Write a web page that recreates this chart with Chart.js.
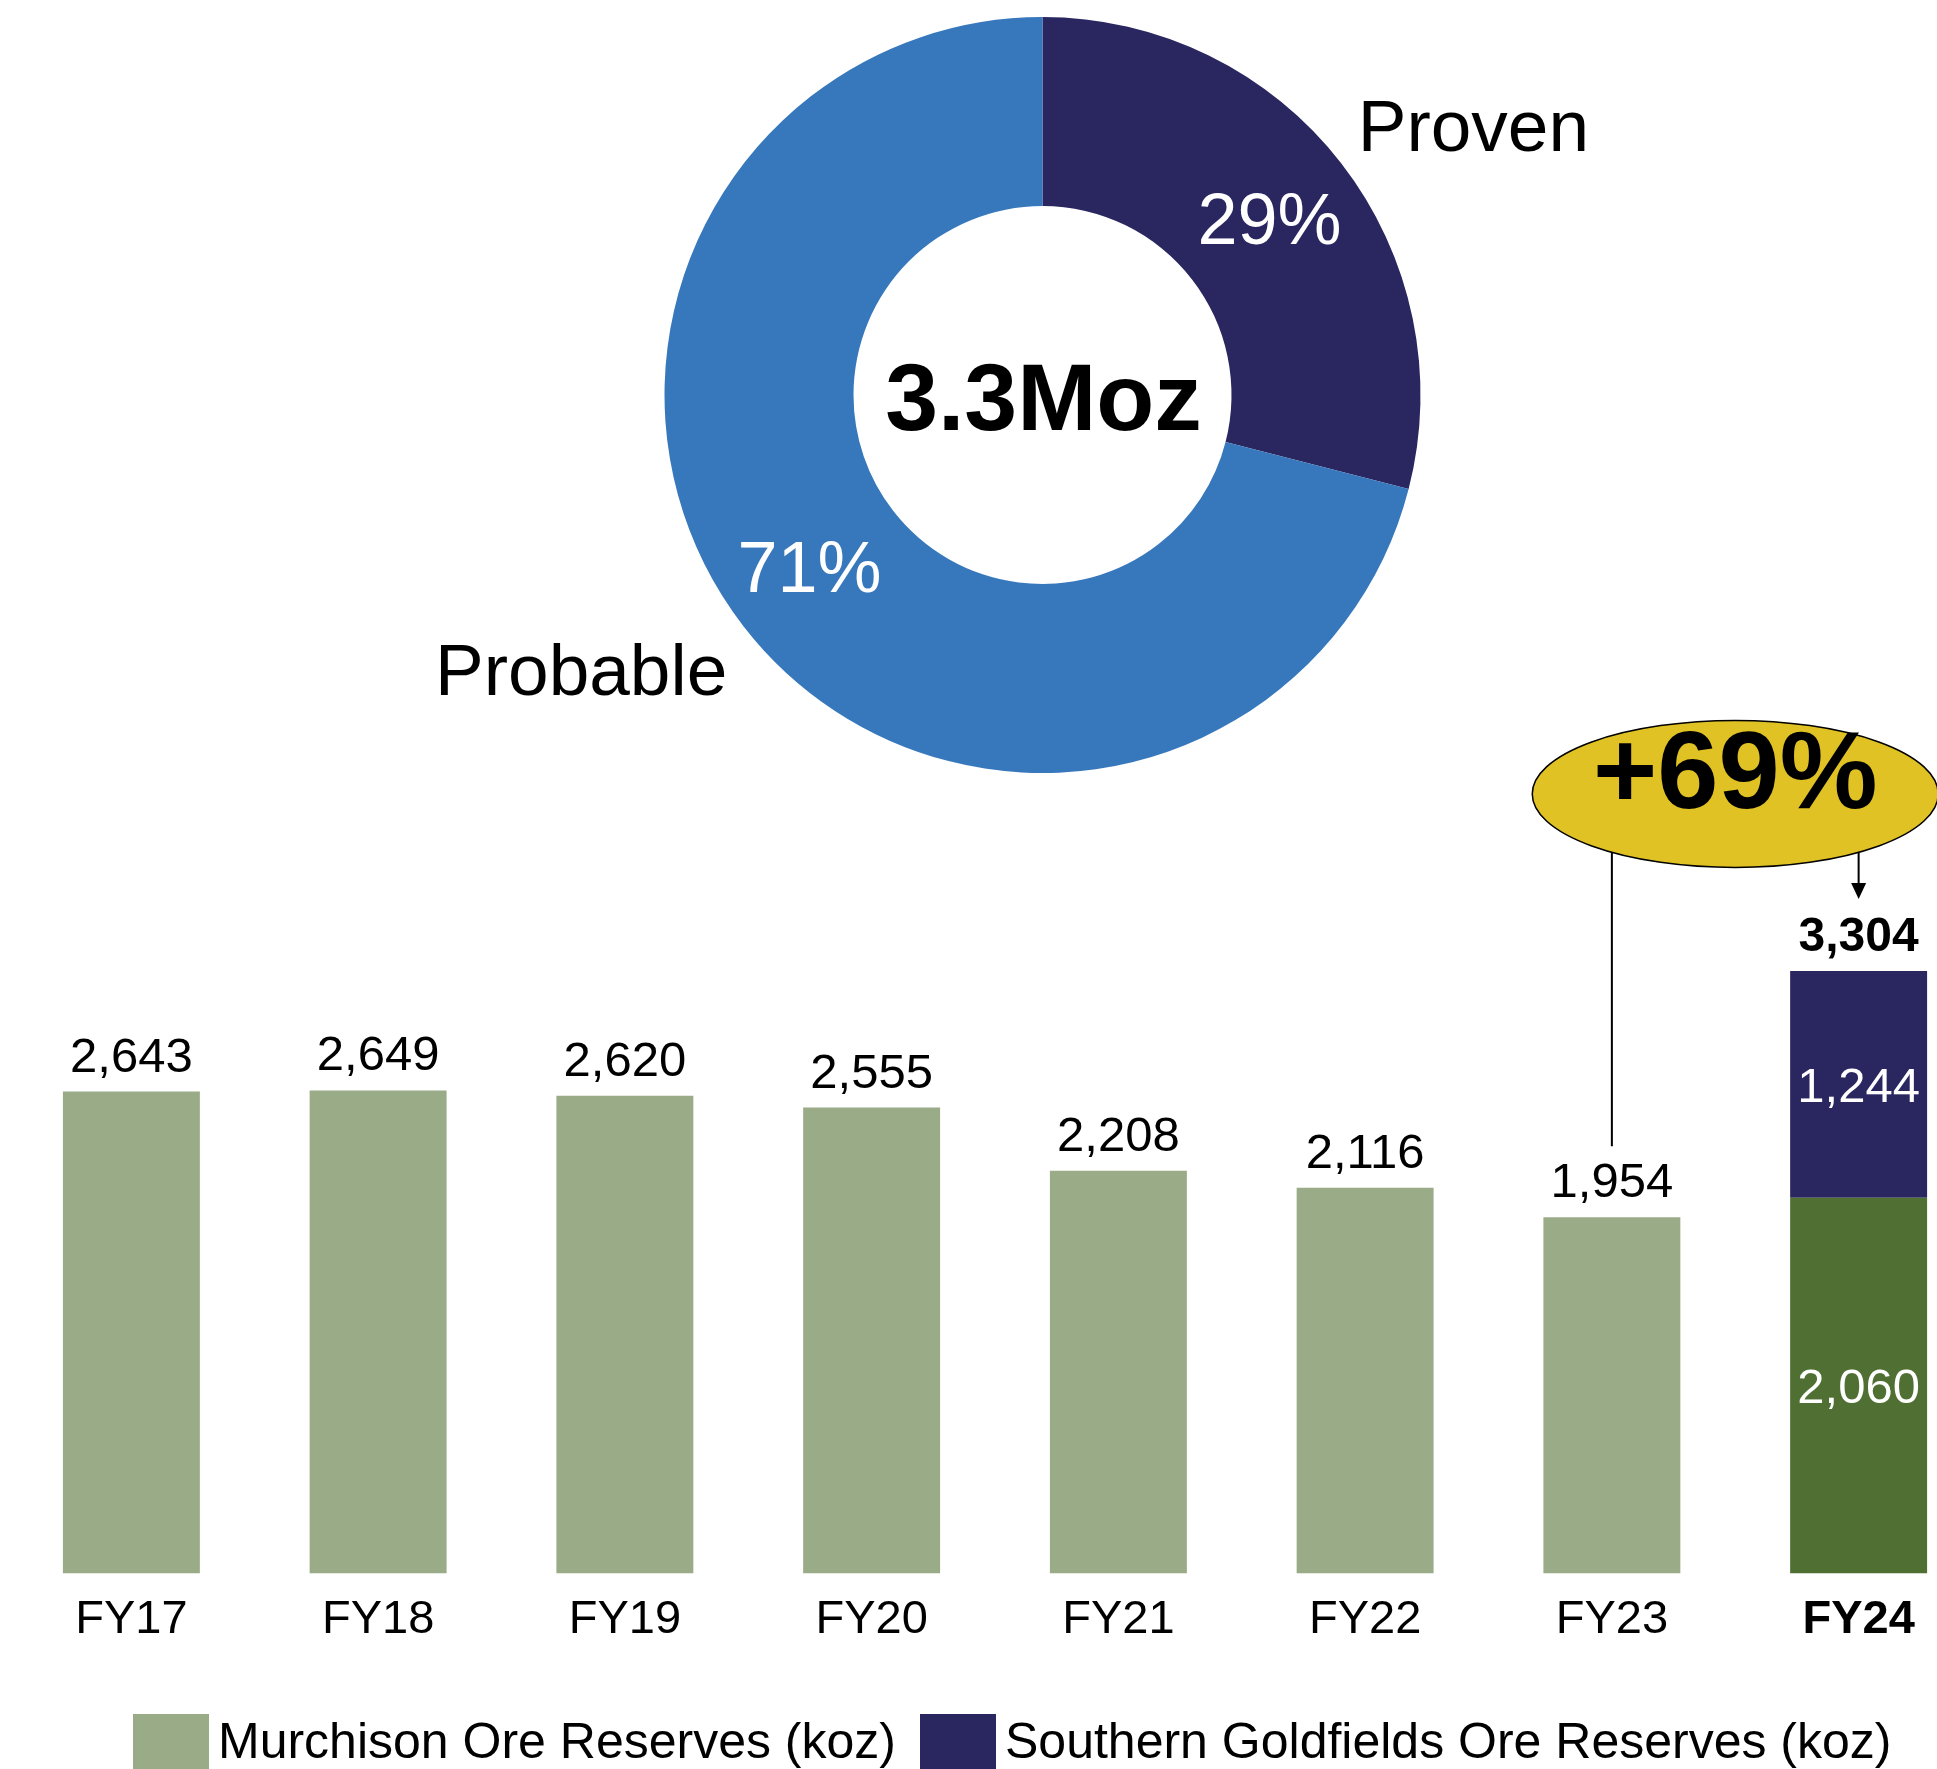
<!DOCTYPE html>
<html>
<head>
<meta charset="utf-8">
<script src="https://cdn.jsdelivr.net/npm/chart.js@4.4.1/dist/chart.umd.min.js"></script>
<style>
  html, body { margin: 0; padding: 0; background: #fff; overflow: hidden; }
  body { width: 1937px; height: 1769px; position: relative; font-family: "Liberation Sans", Arial, sans-serif; }
  #donutWrap { position: absolute; left: 0; top: 0; width: 1937px; height: 790px; }
  #barWrap { position: absolute; left: 0; top: 712px; width: 2000px; height: 946px; }
  .legend-item { position: absolute; top: 1714px; display: flex; align-items: flex-start; }
  .legend-box { width: 76px; height: 76px; }
  .legend-text { font-size: 50px; line-height: 50px; margin-left: 9px; margin-top: 2px; color: #000; white-space: nowrap; }
</style>
</head>
<body>
<div id="donutWrap"><canvas id="donutChart"></canvas></div>
<div id="barWrap"><canvas id="barChart"></canvas></div>
<div id="legend"></div>
<script>
// -----------------------------
// DATA
// -----------------------------
const mixLabels = ['Proven', 'Probable'];
const mixValues = [29, 71];
const totalLabel = '3.3Moz';

const years = ['FY17', 'FY18', 'FY19', 'FY20', 'FY21', 'FY22', 'FY23', 'FY24'];
const murchison = [2643, 2649, 2620, 2555, 2208, 2116, 1954, 2060];
const southern = [null, null, null, null, null, null, null, 1244];
const growthLabel = '+69%';

const FONT = '"Liberation Sans", Arial, sans-serif';
const fmt = n => n.toLocaleString('en-US');

// colours
const navy = '#2a2660';
const blue = '#3778bd';
const lightGreen = '#9aab87';
const darkGreen = '#4f6f33';
const gold = '#e0c224';

// -----------------------------
// DONUT
// -----------------------------
const pctNudge = [3, -9];

const donutLabels = {
    id: 'donutLabels',
    afterDraw(chart) {
        const ctx = chart.ctx;
        const meta = chart.getDatasetMeta(0);
        const first = meta.data[0];
        const cx = first.x, cy = first.y, r = first.outerRadius;
        ctx.save();
        ctx.textAlign = 'center';
        ctx.textBaseline = 'alphabetic';

        // percentages on the ring
        ctx.fillStyle = '#fff';
        ctx.font = '72px ' + FONT;
        meta.data.forEach((arc, i) => {
            const p = arc.tooltipPosition();
            ctx.fillText(mixValues[i] + '%', p.x + pctNudge[i], p.y + 0.358 * 72 - 3);
        });

        // total in the hole
        ctx.fillStyle = '#000';
        ctx.font = 'bold 95px ' + FONT;
        ctx.fillText(totalLabel, cx + 1, cy + 0.716 * 95 / 2 + 1);

        // names outside
        ctx.font = '73px ' + FONT;
        ctx.textAlign = 'left';
        ctx.fillText(mixLabels[0], cx + r * 0.834, cy - r * 0.6455);
        ctx.textAlign = 'right';
        ctx.fillText(mixLabels[1], cx - r * 0.834, cy + r * 0.794);
        ctx.restore();
    }
};

new Chart(document.getElementById('donutChart'), {
    type: 'doughnut',
    data: {
        labels: mixLabels,
        datasets: [{
            data: mixValues,
            backgroundColor: [navy, blue],
            borderWidth: 0,
            hoverOffset: 0
        }]
    },
    options: {
        responsive: true,
        maintainAspectRatio: false,
        animation: false,
        cutout: '50%',
        rotation: 0,
        layout: { padding: { left: 148, right: 0, top: 17, bottom: 17 } },
        plugins: {
            legend: { display: false },
            tooltip: { enabled: false }
        }
    },
    plugins: [donutLabels]
});

// -----------------------------
// BAR CHART
// -----------------------------
const barLabels = {
    id: 'barLabels',
    afterDatasetsDraw(chart) {
        const ctx = chart.ctx;
        const m0 = chart.getDatasetMeta(0);
        const m1 = chart.getDatasetMeta(1);
        ctx.save();
        ctx.textAlign = 'center';
        ctx.textBaseline = 'alphabetic';

        years.forEach((y, i) => {
            const base = m0.data[i];
            const top = southern[i] != null ? m1.data[i] : base;
            const total = murchison[i] + (southern[i] || 0);
            const last = i === years.length - 1;

            ctx.fillStyle = '#000';
            ctx.font = (last ? 'bold 48px ' : '49px ') + FONT;
            ctx.fillText(fmt(total), top.x, top.y - 20);

            if (southern[i] != null) {
                ctx.fillStyle = '#fff';
                ctx.font = '49px ' + FONT;
                ctx.fillText(fmt(murchison[i]), base.x, (base.y + base.base) / 2 + 17.5);
                ctx.fillText(fmt(southern[i]), top.x, (top.y + top.base) / 2 + 17.5);
            }
        });

        // growth callout between the last two years
        const a = m0.data[years.length - 2];
        const b = m1.data[years.length - 1];
        const cx = (a.x + b.x) / 2, cy = b.y - 177, rx = 203, ry = 73.5;
        const yAt = x => cy + ry * Math.sqrt(Math.max(0, 1 - ((x - cx) / rx) ** 2));

        ctx.strokeStyle = '#000';
        ctx.fillStyle = '#000';
        ctx.lineWidth = 2;
        ctx.beginPath();
        ctx.moveTo(a.x, yAt(a.x) - 4);
        ctx.lineTo(a.x, a.y - 71);
        ctx.stroke();

        ctx.beginPath();
        ctx.moveTo(b.x, yAt(b.x) - 4);
        ctx.lineTo(b.x, b.y - 86);
        ctx.stroke();
        ctx.beginPath();
        ctx.moveTo(b.x - 7.5, b.y - 88);
        ctx.lineTo(b.x + 7.5, b.y - 88);
        ctx.lineTo(b.x, b.y - 72);
        ctx.closePath();
        ctx.fill();

        ctx.beginPath();
        ctx.ellipse(cx, cy, rx, ry, 0, 0, Math.PI * 2);
        ctx.fillStyle = gold;
        ctx.fill();
        ctx.lineWidth = 1.5;
        ctx.stroke();

        ctx.fillStyle = '#000';
        ctx.font = 'bold 110px ' + FONT;
        ctx.fillText(growthLabel, cx, cy + 14.5);
        ctx.restore();
    }
};

const barChart = new Chart(document.getElementById('barChart'), {
    type: 'bar',
    data: {
        labels: years,
        datasets: [{
            label: 'Murchison Ore Reserves (koz)',
            data: murchison,
            backgroundColor: years.map((y, i) => i === years.length - 1 ? darkGreen : lightGreen),
            legendColor: lightGreen,
            barPercentage: 0.555,
            categoryPercentage: 1
        }, {
            label: 'Southern Goldfields Ore Reserves (koz)',
            data: southern,
            backgroundColor: navy,
            legendColor: navy,
            barPercentage: 0.555,
            categoryPercentage: 1
        }]
    },
    options: {
        responsive: true,
        maintainAspectRatio: false,
        animation: false,
        layout: { padding: { left: 8, right: 18, top: 132, bottom: 0 } },
        plugins: {
            legend: { display: false },
            tooltip: { enabled: false }
        },
        scales: {
            x: {
                stacked: true,
                grid: { display: false },
                border: { display: false },
                ticks: {
                    color: '#000',
                    padding: 10,
                    autoSkip: false,
                    maxRotation: 0,
                    font: c => ({ family: FONT, size: 47, weight: c.index === years.length - 1 ? 'bold' : 'normal' })
                }
            },
            y: { stacked: true, display: false, min: 0, max: 4000 }
        }
    },
    plugins: [barLabels]
});

// -----------------------------
// LEGEND
// -----------------------------
const legendLefts = [133, 920];
const legendEl = document.getElementById('legend');
barChart.data.datasets.forEach((ds, i) => {
    const item = document.createElement('div');
    item.className = 'legend-item';
    item.style.left = legendLefts[i] + 'px';
    item.innerHTML = `<div class="legend-box" style="background:${ds.legendColor}"></div><span class="legend-text">${ds.label}</span>`;
    legendEl.appendChild(item);
});
</script>
</body>
</html>
